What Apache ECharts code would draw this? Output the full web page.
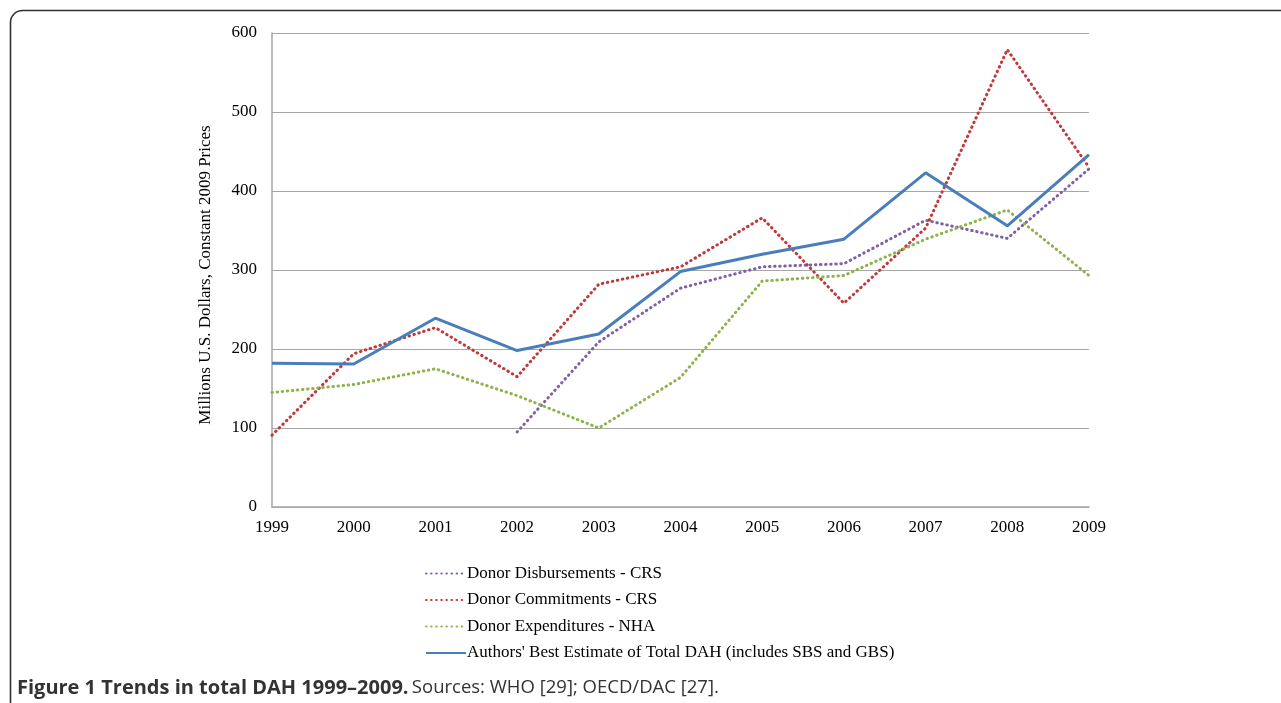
<!DOCTYPE html>
<html>
<head>
<meta charset="utf-8">
<script src="https://cdn.jsdelivr.net/npm/echarts@6/dist/echarts.min.js"></script>
<style>
html,body{margin:0;padding:0;background:#fff;}
#chart{width:1281px;height:703px;}
</style>
</head>
<body>
<div id="chart"></div>
<script>
var years = ['1999','2000','2001','2002','2003','2004','2005','2006','2007','2008','2009'];
var disbursementsCRS = [null, null, null, 95, 209, 277, 304, 308, 363, 340, 428];
var commitmentsCRS = [91, 194, 227, 165, 282, 304, 366, 258, 353, 579, 430];
var expendituresNHA = [145, 155, 175, 141, 100, 164, 286, 293, 339, 376, 293];
var bestEstimate = [182, 181, 239, 198, 219, 298, 320, 339, 423, 356, 446];
var seriesNames = ['Donor Disbursements - CRS', 'Donor Commitments - CRS', 'Donor Expenditures - NHA', "Authors' Best Estimate of Total DAH (includes SBS and GBS)"];
var yTitle = 'Millions U.S. Dollars, Constant 2009 Prices';

var serif = '"Liberation Serif", "Times New Roman", serif';
var chart = echarts.init(document.getElementById('chart'));
function dotted(name, data, color) {
  return {
    name: name, type: 'line', data: data, showSymbol: false, symbol: 'none',
    connectNulls: false, animation: false,
    lineStyle: { color: color, width: 3, type: [0.5, 4.6], cap: 'round' },
    itemStyle: { color: color }
  };
}
chart.setOption({
  animation: false,
  grid: { left: 272, right: 192, top: 33, bottom: 196 },
  xAxis: {
    type: 'category', data: years, boundaryGap: false,
    axisLine: { lineStyle: { color: '#a6a6a6', width: 1.5 } },
    axisTick: { show: false },
    axisLabel: { color: '#000', fontFamily: serif, fontSize: 17, margin: 12 },
    splitLine: { show: false }
  },
  yAxis: {
    type: 'value', min: 0, max: 600, interval: 100,
    name: yTitle, nameLocation: 'middle', nameGap: 58,
    nameTextStyle: { color: '#000', fontFamily: serif, fontSize: 17, padding: [0, 10, 0, 0] },
    axisLine: { show: true, lineStyle: { color: '#a6a6a6', width: 1.5 } },
    axisTick: { show: false },
    axisLabel: { color: '#000', fontFamily: serif, fontSize: 17, margin: 15 },
    splitLine: { lineStyle: { color: '#a6a6a6', width: 1.2 } }
  },
  legend: {
    orient: 'vertical', left: 420, top: 560,
    itemWidth: 40, itemHeight: 10, itemGap: 9.5,
    itemStyle: { opacity: 0 },
    textStyle: { color: '#000', fontFamily: serif, fontSize: 17, padding: [0,0,0,-4] },
    data: seriesNames
  },
  series: [
    dotted(seriesNames[0], disbursementsCRS, '#7f60a8'),
    dotted(seriesNames[1], commitmentsCRS, '#c0393a'),
    dotted(seriesNames[2], expendituresNHA, '#8db34a'),
    {
      name: seriesNames[3], type: 'line', data: bestEstimate, showSymbol: false, symbol: 'none',
      lineStyle: { color: '#4a7ebb', width: 3 }, itemStyle: { color: '#4a7ebb' }, z: 5
    }
  ],
  graphic: [
    {
      type: 'rect', silent: true,
      shape: { x: 10.5, y: 10.5, width: 1400, height: 900, r: 12 },
      style: { fill: 'none', stroke: '#333', lineWidth: 1.6 }
    },
    {
      type: 'text', left: 17, top: 678,
      style: {
        text: '{b|Figure 1 Trends in total DAH 1999\u20132009.} {n|Sources: WHO [29]; OECD/DAC [27].}',
        rich: {
          b: { fontFamily: '"Open Sans", "Noto Sans", sans-serif', fontWeight: 'bold', fontSize: 20, fill: '#333' },
          n: { fontFamily: '"Open Sans", "Noto Sans", sans-serif', fontSize: 18.5, fill: '#333' }
        }
      }
    }
  ]
});
</script>
</body>
</html>
